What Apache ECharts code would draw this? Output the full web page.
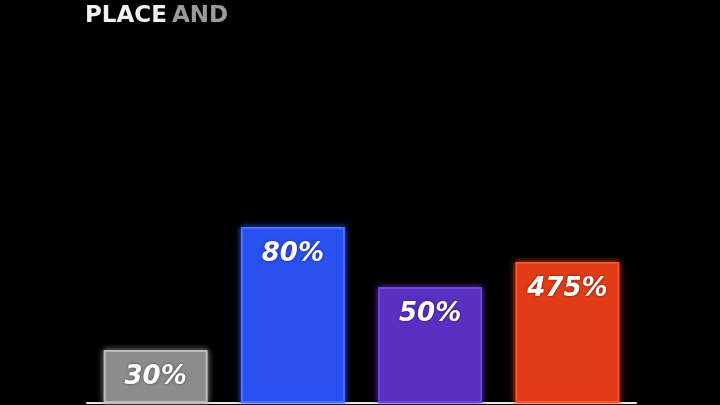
<!DOCTYPE html>
<html><head><meta charset="utf-8">
<script src="https://cdn.jsdelivr.net/npm/echarts@6/dist/echarts.min.js"></script>
<style>html,body{margin:0;padding:0;background:#000;}#c{width:720px;height:405px;}</style>
</head><body><div id="c"></div>
<script>
const categories = ['A', 'B', 'C', 'D'];
const barHeights = [26.5, 88, 58, 70.5];
const barLabels = ['30%', '80%', '50%', '475%'];
const barColors = ['#8c8c8c', '#2a50f0', '#5a30c2', '#e23c17'];
const borderColors = ['#bdbdbd', '#4a72ff', '#6e45dc', '#f25430'];

const chart = echarts.init(document.getElementById('c'));
chart.setOption({
  backgroundColor: '#000',
  animation: false,
  title: {
    text: '{a|PLACE} {b|AND}',
    left: 80, top: 0,
    textStyle: {
      rich: {
        a: { color: '#f2f2f2', fontSize: 23, fontWeight: 'bold', fontFamily: 'DejaVu Sans' },
        b: { color: '#9a9a9a', fontSize: 23, fontWeight: 'bold', fontFamily: 'DejaVu Sans' }
      }
    }
  },
  grid: { left: 87, width: 549, top: 3, bottom: 2 },
  xAxis: {
    type: 'category', data: categories,
    axisLine: { show: true, lineStyle: { color: '#dfeee0', width: 2 } },
    axisTick: { show: false }, axisLabel: { show: false }
  },
  yAxis: { type: 'value', min: 0, max: 200, show: false, splitLine: { show: false } },
  series: [{
    type: 'bar',
    barWidth: 104,
    data: barHeights.map((v, i) => ({
      value: v,
      itemStyle: { color: barColors[i], borderColor: borderColors[i], borderWidth: 2, shadowColor: barColors[i], shadowBlur: 6 },
      label: { formatter: barLabels[i] }
    })),
    label: {
      show: true, position: 'insideTop', distance: 14,
      color: '#ffffff', fontSize: 26, fontWeight: 'bold', fontStyle: 'italic',
      fontFamily: 'DejaVu Sans',
      textShadowColor: 'rgba(0,0,0,0.5)', textShadowBlur: 3
    }
  }]
});
</script></body></html>
